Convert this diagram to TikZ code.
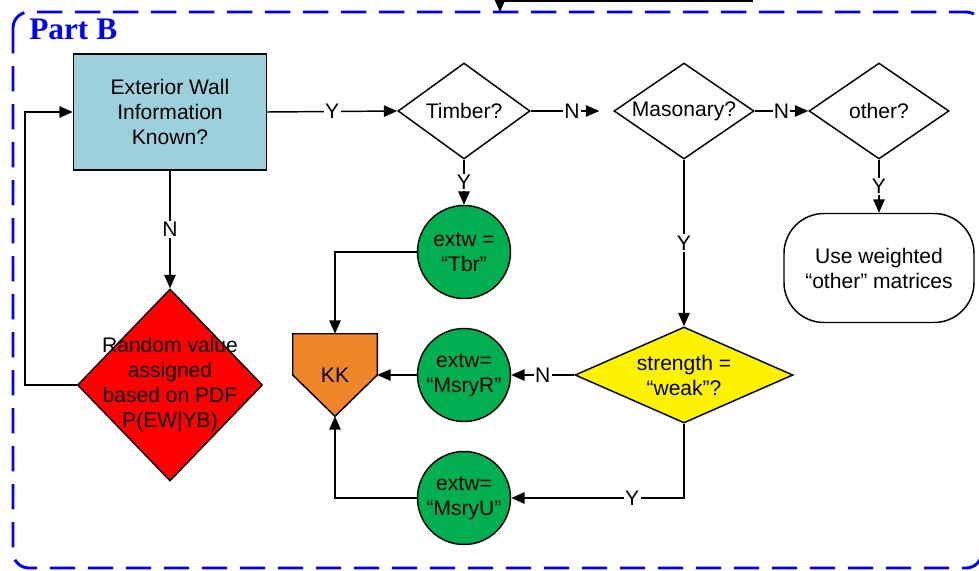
\documentclass[tikz,border=0pt]{standalone}
\usepackage{fontspec}
\setmainfont{Liberation Sans}
\newfontfamily\titlefont{Liberation Serif}
\usepackage{xcolor}
\usepackage{tikz}
\usetikzlibrary{shapes,arrows,positioning,calc,backgrounds,arrows.meta}

\definecolor{wallblue}{RGB}{155,208,220}
\definecolor{extwgreen}{RGB}{0,176,80}
\definecolor{kkorange}{RGB}{240,134,42}

\tikzset{
    flow/.style={draw, line width=1.1pt, -{Triangle[length=10pt,width=8.5pt]}},
    yn/.style={fill=white, inner sep=1pt},
    decision/.style={diamond, draw, line width=1.1pt, inner sep=0pt, aspect=1.4, align=center},
    extwnode/.style={circle, draw, line width=1.1pt, fill=extwgreen, minimum size=69.75pt, inner sep=0pt, align=center},
}

\begin{document}
\begin{tikzpicture}[x=0.75pt, y=-0.75pt, every node/.style={font=\fontsize{15.8}{18.75}\selectfont}]
    \useasboundingbox (0,0) rectangle (979,571);

    % Part B frame
    \draw[blue, line width=2.2pt, dash pattern=on 19pt off 9.5pt, rounded corners=12pt] (13,12) rectangle (982,568);
    \node[anchor=base west, text=blue, inner sep=0pt, font=\fontsize{23.5}{28}\titlefont\bfseries] (partb) at (29,40) {Part B};

    % coming in from above
    \coordinate (fromA) at (753,1);
    \coordinate (intoB) at (500,12);
    \draw[flow] (fromA) -| (intoB);

    % questions
    \node[rectangle, draw, line width=1.1pt, fill=wallblue, minimum width=144.75pt, minimum height=87pt, align=center] (wall) at (170,112) {Exterior Wall\\Information\\Known?};
    \node[decision, minimum width=99pt, minimum height=72pt] (timber) at (464,111) {Timber?};
    \node[decision, minimum width=105pt, minimum height=72pt] (mason) at (684,111) {Masonary?};
    \node[decision, minimum width=105pt, minimum height=72pt] (other) at (879,111) {other?};
    \node[draw, line width=1.1pt, rounded corners=30pt, minimum width=142.5pt, minimum height=81.75pt, align=center] (weighted) at (879,268) {Use weighted\\“other” matrices};
    \node[decision, fill=yellow, aspect=2.27, minimum width=163.5pt, minimum height=72pt] (weak) at (684,375) {strength =\\“weak”?};

    % random value
    \node[decision, fill=red, minimum width=138.75pt, minimum height=144pt, label={[align=center]center:Random value\\assigned\\based on PDF\\P(EW|YB)}] (random) at (170,385) {};

    % extw values
    \node[extwnode] (tbr) at (464,252) {extw =\\“Tbr”};
    \node[extwnode] (msryr) at (464,375) {extw=\\“MsryR”};
    \node[extwnode] (msryu) at (464,498) {extw=\\“MsryU”};

    % KK
    \node[minimum width=63pt, minimum height=61.5pt, inner sep=0pt] (kk) at (335,375) {KK};
    \begin{scope}[on background layer]
        \draw[line width=1.1pt, fill=kkorange] (kk.north west) -- (kk.north east) -- (kk.east) -- (kk.south) -- (kk.west) -- cycle;
    \end{scope}

    % connectors
    \draw[flow] (wall.east) -- node[yn] {Y} (timber.west);
    \draw[flow, shorten >=10.5pt] (timber.east) -- node[yn] {N} (mason.west);
    \draw[flow] (mason.east) -- node[yn] {N} (other.west);
    \draw[flow] (timber.south) -- node[yn] {Y} (tbr.north);
    \draw[flow] (other.south) -- node[yn] {Y} (weighted.north);
    \draw[flow] (mason.south) -- node[yn] {Y} (weak.north);
    \draw[flow] (wall.south) -- node[yn] {N} (random.north);
    \draw[flow] (random.west) -- ++(-52,0) |- (wall.west);
    \draw[flow] (weak.west) -- node[yn] {N} (msryr.east);
    \draw[flow] (weak.south) |- node[yn, pos=0.65] {Y} (msryu.east);
    \draw[flow] (tbr.west) -| (kk.north);
    \draw[flow] (msryr.west) -- (kk.east);
    \draw[flow] (msryu.west) -| (kk.south);
\end{tikzpicture}
\end{document}
